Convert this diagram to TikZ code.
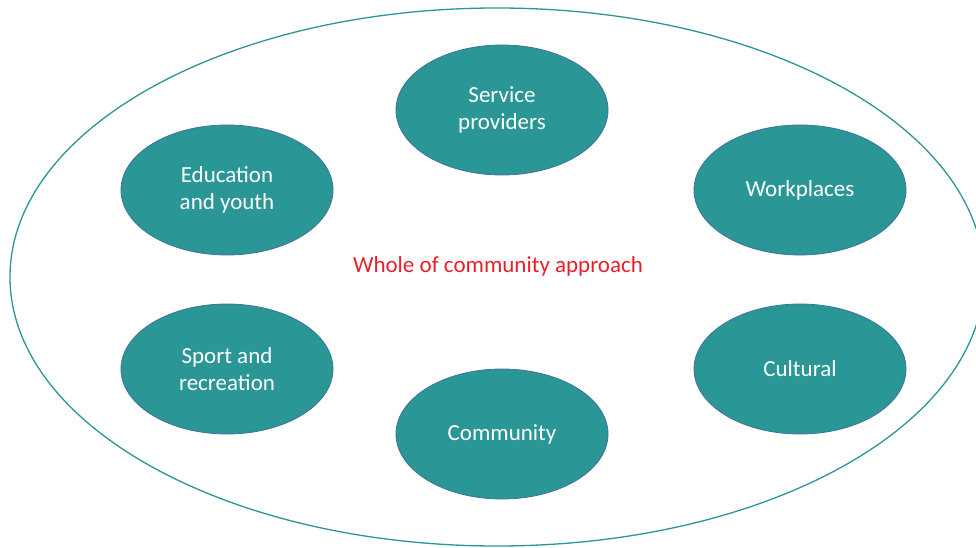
\documentclass[tikz,border=0pt]{standalone}
\usepackage{fontspec}
\setmainfont{Carlito}
\usepackage{tikz}
\usetikzlibrary{shapes.geometric}

\definecolor{teal1}{HTML}{2A9696}
\definecolor{rim}{HTML}{41719C}
\definecolor{redtxt}{HTML}{E8202A}

\tikzset{
  sector/.style={ellipse, draw=rim, line width=0.8pt, fill=teal1, text=white,
    minimum width=212pt, minimum height=130pt, align=center,
    font=\fontsize{23}{27}\selectfont},
}

\begin{document}
\begin{tikzpicture}[x=1pt, y=-1pt]
                    \clip (0, 0) rectangle (976, 548);
                    \draw[teal1, line width=1.3pt] (497, 277) ellipse [x radius=487, y radius=269];
                    \node[sector] (service) at (502, 110) {Service\\providers};
                    \node[sector] (education) at (227, 190) {Education\\and youth};
                    \node[sector] (work) at (800, 190) {Workplaces};
                    \node[sector] (sport) at (227, 369) {Sport and\\recreation};
                    \node[sector] (cultural) at (800, 369) {Cultural};
                    \node[sector] (community) at (502, 434) {Community};
                    \node[text=redtxt, font=\fontsize{23}{27}\selectfont] (whole) at (498, 266) {Whole of community approach};
                \end{tikzpicture}
\end{document}
